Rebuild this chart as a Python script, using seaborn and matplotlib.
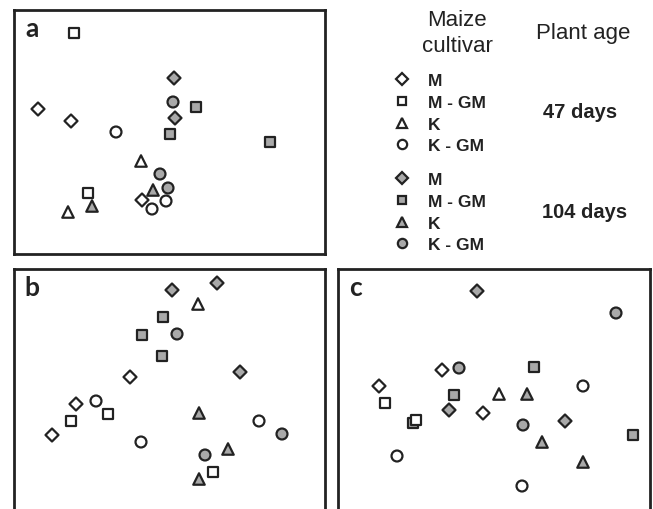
import numpy as np
import pandas as pd
import matplotlib
matplotlib.use("Agg")
import matplotlib.pyplot as plt
from matplotlib.lines import Line2D
import seaborn as sns

sns.set_style("white")
plt.rcParams["font.family"] = ["Liberation Sans", "DejaVu Sans"]

# NMDS scores (arbitrary units, y up)
a_x = [160, 161, 182, 156, 256, 139, 78, 159, 146, 154,
       24, 57, 128, 60, 74, 127, 54, 102, 152, 138]
a_y = [176, 136, 147, 120, 112, 64, 48, 152, 80, 66,
       145, 133, 54, 221, 61, 93, 42, 122, 53, 45]
a_cultivar = ["M", "M", "M - GM", "M - GM", "M - GM", "K", "K", "K - GM", "K - GM", "K - GM",
              "M", "M", "M", "M - GM", "M - GM", "K", "K", "K - GM", "K - GM", "K - GM"]
a_age = ["104 days"] * 10 + ["47 days"] * 10

b_x = [158, 203, 226, 149, 128, 148, 185, 214, 185, 163, 268, 191,
       116, 62, 38, 94, 57, 199, 184, 82, 245, 127]
b_y = [234, 241, 152, 207, 189, 168, 111, 75, 45, 190, 90, 69,
       147, 120, 89, 110, 103, 52, 220, 123, 103, 82]
b_cultivar = ["M", "M", "M", "M - GM", "M - GM", "M - GM", "K", "K", "K", "K - GM", "K - GM", "K - GM",
              "M", "M", "M", "M - GM", "M - GM", "M - GM", "K", "K - GM", "K - GM", "K - GM"]
b_age = ["104 days"] * 12 + ["47 days"] * 10

c_x = [139, 111, 227, 196, 116, 295, 75, 189, 204, 245, 278, 121, 185,
       104, 41, 145, 47, 78, 161, 245, 59, 184]
c_y = [233, 114, 103, 157, 129, 89, 101, 130, 82, 62, 211, 156, 99,
       154, 138, 111, 121, 104, 130, 138, 68, 38]
c_cultivar = ["M", "M", "M", "M - GM", "M - GM", "M - GM", "M - GM", "K", "K", "K", "K - GM", "K - GM", "K - GM",
              "M", "M", "M", "M - GM", "M - GM", "K", "K - GM", "K - GM", "K - GM"]
c_age = ["104 days"] * 13 + ["47 days"] * 9

cultivars = ["M", "M - GM", "K", "K - GM"]
ages = ["47 days", "104 days"]

markers = {"M": "D", "M - GM": "s", "K": "^", "K - GM": "o"}
sizes = {"M": 44, "M - GM": 44, "K": 68, "K - GM": 62}
palette = {"47 days": "white", "104 days": "#a9a9a9"}
edge = "#222222"

fig = plt.figure(figsize=(6.53, 5.10), dpi=100)

W, H = 653, 510
def axes_px(x0, y0, x1, y1):
    return fig.add_axes([x0 / W, 1 - y1 / H, (x1 - x0) / W, (y1 - y0) / H])

panels = [
    ("a", axes_px(14, 11, 325, 255), a_x, a_y, a_cultivar, a_age, (0, 311), (0, 244)),
    ("b", axes_px(14, 270, 325, 525), b_x, b_y, b_cultivar, b_age, (0, 311), (0, 255)),
    ("c", axes_px(338, 270, 650, 525), c_x, c_y, c_cultivar, c_age, (0, 312), (0, 255)),
]

for letter, ax, xs, ys, cv, ag, xl, yl in panels:
    df = pd.DataFrame({"x": xs, "y": ys, "cultivar": cv, "age": ag})
    sns.scatterplot(data=df, x="x", y="y", hue="age", style="cultivar", size="cultivar",
                    markers=markers, sizes=sizes, palette=palette,
                    edgecolor=edge, linewidth=1.6, legend=False, ax=ax)
    ax.set_xlim(*xl)
    ax.set_ylim(*yl)
    ax.set_xticks([])
    ax.set_yticks([])
    ax.set_xlabel("")
    ax.set_ylabel("")
    for s in ax.spines.values():
        s.set_color("#222222")
        s.set_linewidth(2)
    ax.annotate(letter, xy=(0, 1), xycoords="axes fraction", xytext=(18, -18),
                textcoords="offset pixels", ha="center", va="center",
                fontsize=19, fontweight="bold", family=["Lato", "DejaVu Sans"], color="#222222")

# legend
for age, top in zip(ages, [74, 173]):
    handles = [Line2D([], [], ls="", marker=markers[c], markersize=np.sqrt(sizes[c]) * 0.85,
                      markerfacecolor=palette[age], markeredgecolor=edge, markeredgewidth=1.6,
                      label=c) for c in cultivars]
    leg = fig.legend(handles=handles, loc="upper left", bbox_to_anchor=(393 / W, 1 - top / H),
                     frameon=False, borderpad=0, borderaxespad=0, handlelength=1.0,
                     handletextpad=1.0, labelspacing=0.38,
                     prop={"weight": "bold", "size": 12.5})
    for t in leg.get_texts():
        t.set_color("#222222")

txt = dict(ha="center", va="center", color="#222222")
fig.text(457 / W, 1 - 21 / H, "Maize", fontsize=16, **txt)
fig.text(457 / W, 1 - 47 / H, "cultivar", fontsize=16, **txt)
fig.text(583 / W, 1 - 34 / H, "Plant age", fontsize=16, **txt)
fig.text(580 / W, 1 - 112 / H, "47 days", fontsize=14.5, fontweight="bold", **txt)
fig.text(585 / W, 1 - 213 / H, "104 days", fontsize=14.5, fontweight="bold", **txt)

fig.savefig("out.png", dpi=100)
